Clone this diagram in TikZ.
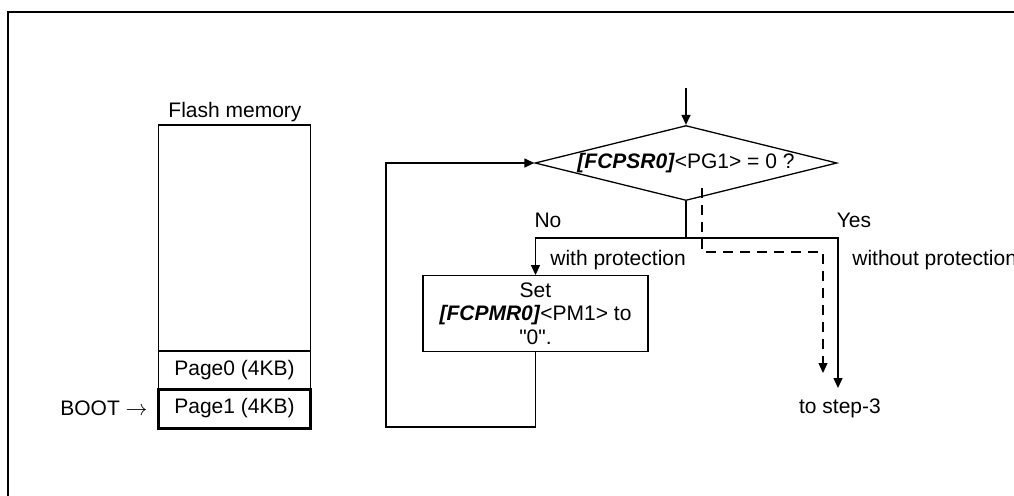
\documentclass[tikz,border=0pt]{standalone}
\usepackage{fontspec}
\setmainfont{Liberation Sans}
\usepackage{tikz}
\usetikzlibrary{arrows.meta,shapes.geometric}

\tikzset{
    line/.style={line width=0.65pt},
    arr/.style={line, -{Triangle[length=5pt,width=4.5pt]}},
    txt/.style={font=\fontsize{10.5}{11.8}\selectfont, inner sep=0pt},
    membox/.style={draw, line, txt, minimum width=76pt},
}

\begin{document}
\begin{tikzpicture}[x=0.5pt, y=-0.5pt]
    \useasboundingbox (0,0) rectangle (1014,495);

    % Frame
    \draw[line] (8,510) -- (8,12) -- (1030,12);

    % Flash memory
    \node[membox, minimum height=113pt] (flash) at (234.5,238) {};
    \node[membox, minimum height=19pt] (page0) at (234.5,370) {Page0 (4KB)};
    \node[membox, minimum height=19.5pt, line width=1.5pt] (page1) at (234.5,408.5) {Page1 (4KB)};
    \node[txt, anchor=base] (flashlab) at (235,117) {Flash memory};
    \node[txt, anchor=base east] (boot) at (148,415) {BOOT $\rightarrow$};

    % Decision and action
    \node[draw, line, txt, diamond, aspect=4, minimum width=151pt, minimum height=37.5pt] (check)
        at (686,163) {\textbf{\textit{[FCPSR0]}}<PG1> = 0 ?};
    \node[draw, line, txt, align=center, minimum width=112.5pt, minimum height=38pt] (setpm)
        at (535.5,313.7) {Set\\\textbf{\textit{[FCPMR0]}}<PM1> to\\\textquotedbl0\textquotedbl.};

    % Branch labels
    \node[txt, anchor=base] (no) at (548,227) {No};
    \node[txt, anchor=base] (yes) at (854,227) {Yes};
    \node[txt, anchor=base west] (withp) at (550,265) {with protection};
    \node[txt, anchor=base west] (withoutp) at (852,265) {without protection};
    \node[txt, anchor=base] (step3) at (840,413) {to step-3};

    % Connectors
    \coordinate (entry) at (686,88);
    \coordinate (split) at (686,238);
    \coordinate (yesend) at (838,388);
    \coordinate (loop) at (386,427);
    \draw[arr] (entry) -- (check.north);
    \draw[arr] (check.south) -- (split) -| (setpm.north);
    \draw[arr] (split) -| (yesend);
    \draw[arr] (setpm.south) |- (loop) |- (check.west);

    % Dashed path
    \coordinate (dashtop) at (702,188);
    \coordinate (dashbend) at (702,252);
    \coordinate (dashend) at (823,373);
    \draw[arr, dash pattern=on 5pt off 3.5pt] (dashtop) -- (dashbend) -| (dashend);
\end{tikzpicture}
\end{document}
